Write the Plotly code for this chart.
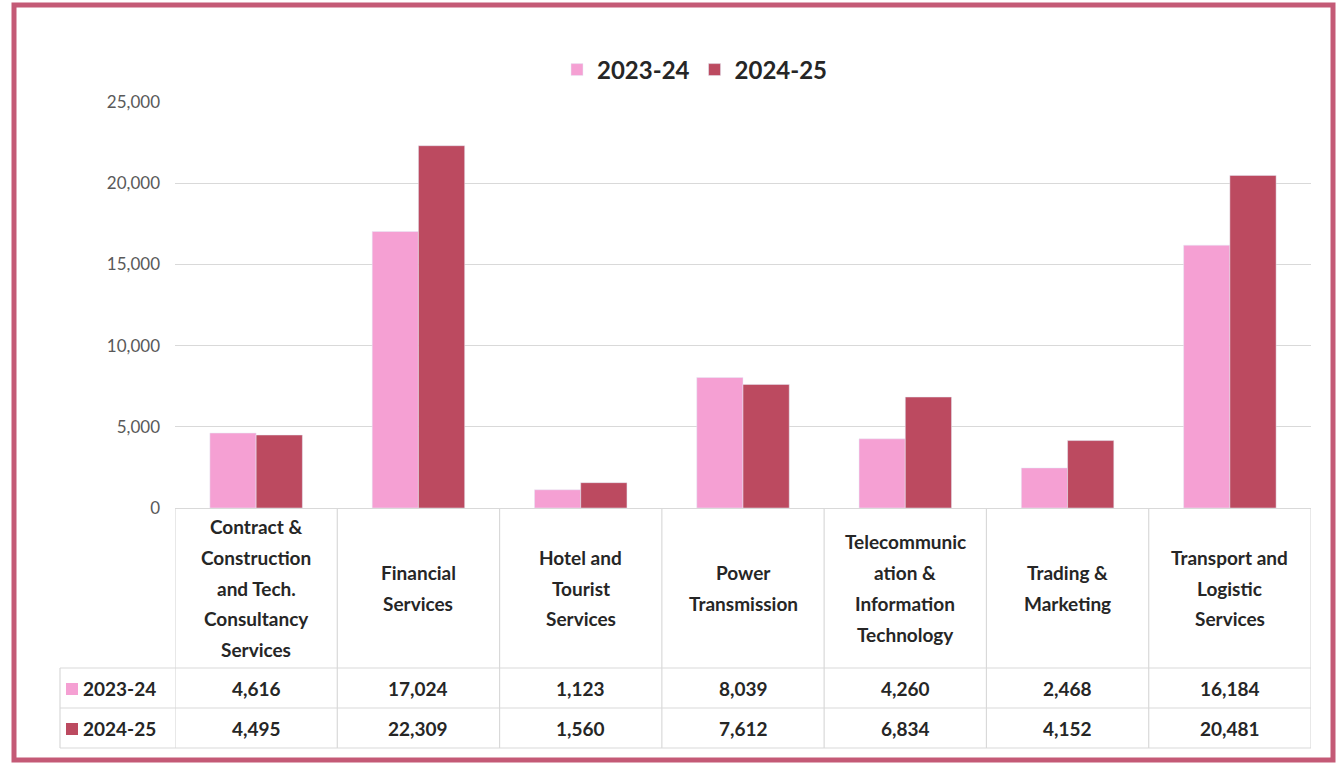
import plotly.graph_objects as go

categories = [
    "Contract &<br>Construction<br>and Tech.<br>Consultancy<br>Services",
    "Financial<br>Services",
    "Hotel and<br>Tourist<br>Services",
    "Power<br>Transmission",
    "Telecommunic<br>ation &<br>Information<br>Technology",
    "Trading &<br>Marketing",
    "Transport and<br>Logistic<br>Services",
]
series_names = ["2023-24", "2024-25"]
values_2023_24 = [4616, 17024, 1123, 8039, 4260, 2468, 16184]
values_2024_25 = [4495, 22309, 1560, 7612, 6834, 4152, 20481]
y_ticks = [0, 5000, 10000, 15000, 20000, 25000]

PINK = "#F5A0D3"
MAROON = "#BC4A60"
GRID = "#D9D9D9"
TEXT = "#262626"
FONT = "Lato"

W, H = 1340, 765
L, R, T, B = 175, 29, 102, 257
PW, PH = W - L - R, H - T - B


def px(x):
    return (x - L) / PW


def py(y):
    return (H - B - y) / PH


n = len(categories)
xs = list(range(n))

fig = go.Figure()
fig.add_bar(x=xs, y=values_2023_24, name=f"<b>{series_names[0]}</b>", marker_color=PINK)
fig.add_bar(x=xs, y=values_2024_25, name=f"<b>{series_names[1]}</b>", marker_color=MAROON)

shapes = []
annotations = []

# data table beneath the bars
for yy in (668, 708, 748):
    shapes.append(dict(type="line", xref="paper", yref="paper",
                       x0=px(60), x1=1, y0=py(yy), y1=py(yy),
                       line=dict(color=GRID, width=1.2)))
for i in range(n + 1):
    shapes.append(dict(type="line", xref="x", yref="paper",
                       x0=i - 0.5, x1=i - 0.5, y0=0, y1=py(748),
                       line=dict(color=GRID, width=1.2)))
shapes.append(dict(type="line", xref="paper", yref="paper",
                   x0=px(60), x1=px(60), y0=py(668), y1=py(748),
                   line=dict(color=GRID, width=1.2)))

LINE_STEP = 30.8
HEADER_MID = 588
for i, cat in enumerate(categories):
    lines = cat.split("<br>")
    start = HEADER_MID - LINE_STEP * (len(lines) - 1) / 2
    for k, line in enumerate(lines):
        annotations.append(dict(x=i, y=py(start + k * LINE_STEP), xref="x", yref="paper",
                                text=f"<b>{line}</b>", showarrow=False,
                                font=dict(family=FONT, size=19, color=TEXT),
                                align="center", yanchor="middle"))
    for vals, yc in ((values_2023_24, 688), (values_2024_25, 728)):
        annotations.append(dict(x=i, y=py(yc), xref="x", yref="paper",
                                text=f"<b>{vals[i]:,}</b>", showarrow=False,
                                font=dict(family=FONT, size=19, color=TEXT),
                                yanchor="middle"))

for name, col, yc in ((series_names[0], PINK, 688), (series_names[1], MAROON, 728)):
    shapes.append(dict(type="rect", xref="paper", yref="paper",
                       x0=px(66), x1=px(78), y0=py(yc - 5), y1=py(yc + 7),
                       fillcolor=col, line=dict(width=0)))
    annotations.append(dict(x=px(81), y=py(yc), xref="paper", yref="paper",
                            text=f"<b>{name}</b>", showarrow=False,
                            xanchor="left", yanchor="middle",
                            font=dict(family=FONT, size=19, color=TEXT)))

# outer frame
shapes.append(dict(type="rect", xref="paper", yref="paper",
                   x0=px(14), x1=px(1333), y0=py(5), y1=py(760),
                   line=dict(color="#C45A76", width=5), fillcolor="rgba(0,0,0,0)"))

fig.update_layout(
    width=W, height=H,
    margin=dict(l=L, r=R, t=T, b=B),
    paper_bgcolor="white", plot_bgcolor="white",
    barmode="group", bargap=0.43, bargroupgap=0,
    font=dict(family=FONT),
    legend=dict(orientation="h", x=px(695), xanchor="center", y=py(70),
                yanchor="middle", font=dict(family=FONT, size=24, color=TEXT),
                traceorder="normal"),
    shapes=shapes, annotations=annotations,
)
fig.update_xaxes(range=[-0.5, n - 0.5], showticklabels=False, showgrid=False,
                 zeroline=False, showline=True, linecolor=GRID, linewidth=1.2)
fig.update_yaxes(range=[0, 25000], tickvals=y_ticks, tickformat=",",
                 showgrid=True, gridcolor=GRID, gridwidth=1.2, zeroline=False,
                 tickfont=dict(family=FONT, size=17, color="#595959"),
                 ticklabelstandoff=14)

fig.write_html("out.html")
